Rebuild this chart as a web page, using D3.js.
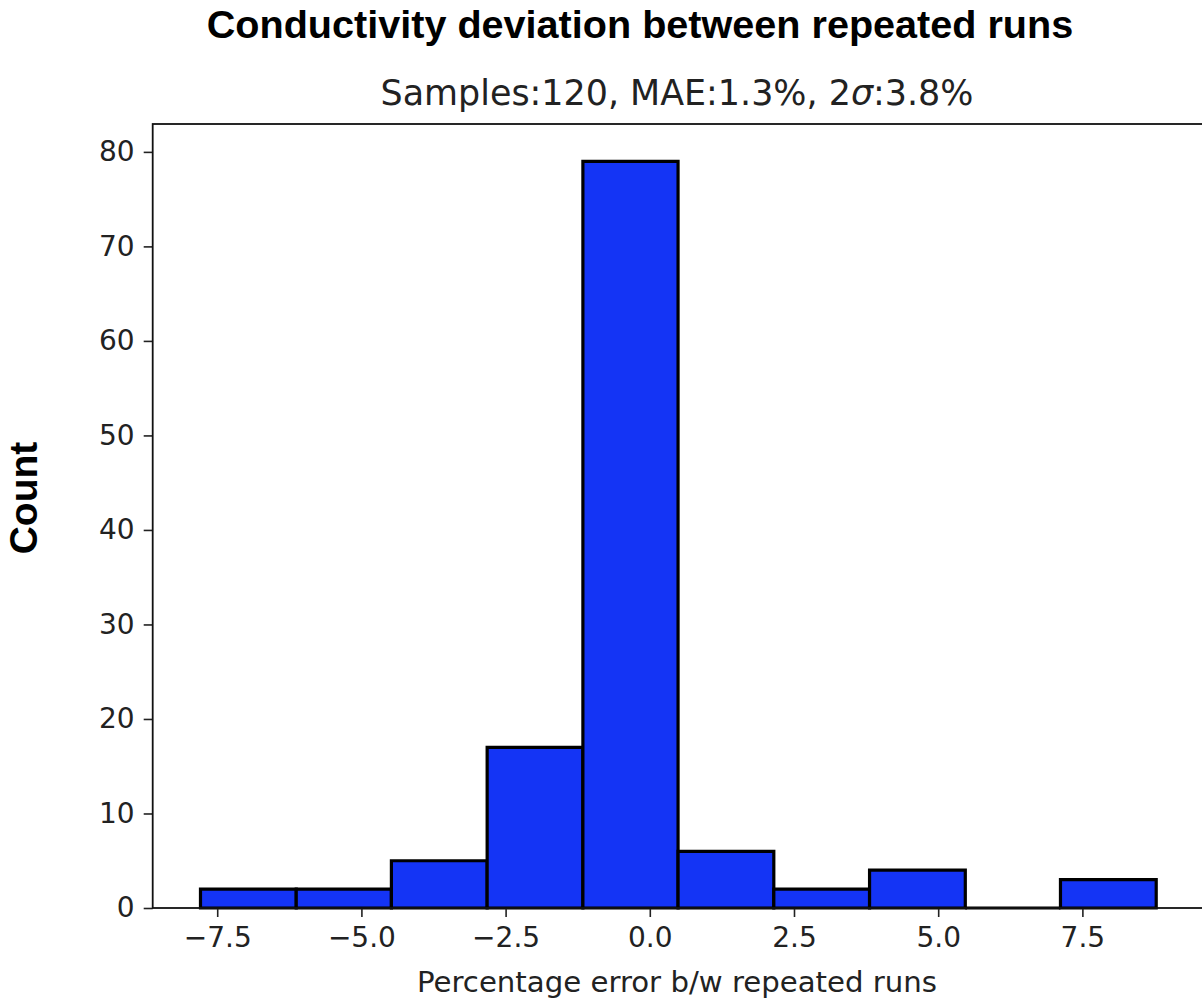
<!DOCTYPE html>
<html lang="en">
<head>
    <meta charset="UTF-8">
    <title>Conductivity deviation</title>
    <script src="https://d3js.org/d3.v7.min.js"></script>
    <style>
        body { margin: 0; background: #fff; }
        svg { display: block; }
        .tick text { font-family: "DejaVu Sans", sans-serif; font-size: 28px; fill: #222; }
        .bar { fill: #1434f5; stroke: #000; stroke-width: 3.2px; stroke-linejoin: miter; }
    </style>
</head>
<body>
    <div id="chart"></div>
    <script>
        // histogram bins
        const binEdges = [-7.79, -6.13, -4.48, -2.82, -1.16, 0.49, 2.15, 3.81, 5.47, 7.12, 8.78];
        const counts = [2, 2, 5, 17, 79, 6, 2, 4, 0, 3];
        const xTicks = [-7.5, -5.0, -2.5, 0.0, 2.5, 5.0, 7.5];
        const yTicks = [0, 10, 20, 30, 40, 50, 60, 70, 80];

        const width = 1202, height = 1001;
        const plotLeft = 152.7, plotRight = 1204, plotTop = 124, plotBottom = 908;

        const bins = counts.map((c, i) => ({x0: binEdges[i], x1: binEdges[i + 1], count: c}));

        const lo = binEdges[0], hi = binEdges[binEdges.length - 1];
        const pad = (hi - lo) * 0.05;
        const x = d3.scaleLinear().domain([lo - pad, hi + pad]).range([plotLeft, plotRight]);
        const y = d3.scaleLinear().domain([0, d3.max(counts) * 1.05]).range([plotBottom, plotTop]);

        const svg = d3.select("#chart").append("svg")
            .attr("width", width)
            .attr("height", height);

        // paths so that an empty bin still shows its outline on the baseline
        svg.append("g")
            .selectAll("path")
            .data(bins)
            .enter().append("path")
            .attr("class", "bar")
            .attr("d", d => `M${x(d.x0)},${y(0)}H${x(d.x1)}V${y(d.count)}H${x(d.x0)}Z`);

        const fmt = d3.format(".1f");
        const xAxis = svg.append("g")
            .attr("transform", `translate(0,${plotBottom})`)
            .call(d3.axisBottom(x).tickValues(xTicks).tickSize(9).tickPadding(10)
                .tickFormat(d => fmt(d).replace("-", "\u2212")));

        const yAxis = svg.append("g")
            .attr("transform", `translate(${plotLeft},0)`)
            .call(d3.axisLeft(y).tickValues(yTicks).tickSize(9).tickPadding(9));

        [xAxis, yAxis].forEach(g => {
            g.select(".domain").remove();
            g.selectAll(".tick line").attr("stroke", "#222").attr("stroke-width", 1.6);
        });

        // spines
        svg.append("rect")
            .attr("x", plotLeft).attr("y", plotTop)
            .attr("width", plotRight - plotLeft).attr("height", plotBottom - plotTop)
            .attr("fill", "none").attr("stroke", "#111").attr("stroke-width", 1.8);

        svg.append("text")
            .attr("x", 640).attr("y", 38)
            .attr("text-anchor", "middle")
            .style("font-family", "'Liberation Sans', Arial, sans-serif")
            .style("font-weight", "bold").style("font-size", "39.6px")
            .text("Conductivity deviation between repeated runs");

        const sub = svg.append("text")
            .attr("x", 677).attr("y", 105)
            .attr("text-anchor", "middle")
            .style("font-family", "'DejaVu Sans', sans-serif")
            .style("font-size", "34.9px").attr("fill", "#222");
        sub.append("tspan").text("Samples:120, MAE:1.3%, 2");
        sub.append("tspan").style("font-style", "italic").text("\u03c3");
        sub.append("tspan").text(":3.8%");

        svg.append("text")
            .attr("x", 677).attr("y", 992)
            .attr("text-anchor", "middle")
            .style("font-family", "'DejaVu Sans', sans-serif")
            .style("font-size", "29.2px").attr("fill", "#222")
            .text("Percentage error b/w repeated runs");

        svg.append("text")
            .attr("transform", "translate(37,498) rotate(-90)")
            .attr("text-anchor", "middle")
            .style("font-family", "'Liberation Sans', Arial, sans-serif")
            .style("font-weight", "bold").style("font-size", "39px")
            .text("Count");
    </script>
</body>
</html>
